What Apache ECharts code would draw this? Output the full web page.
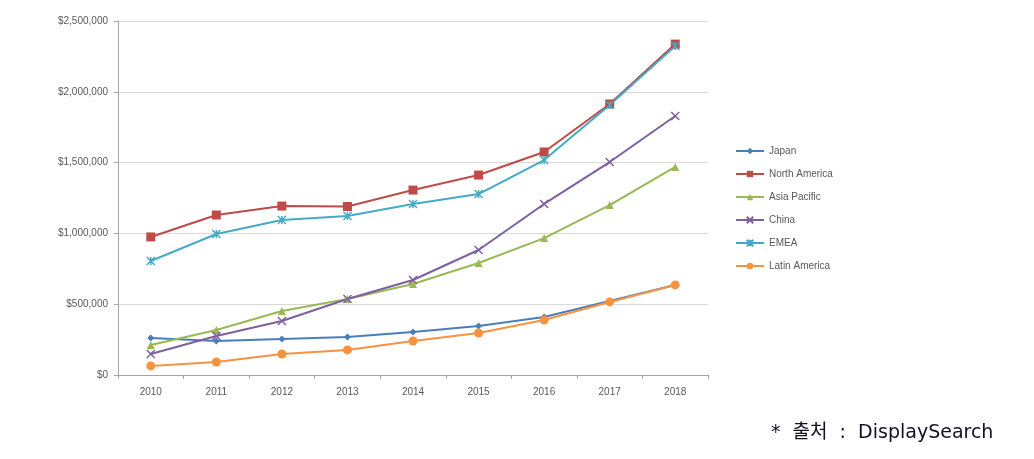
<!DOCTYPE html>
<html><head><meta charset="utf-8">
<script src="https://cdn.jsdelivr.net/npm/echarts@6/dist/echarts.min.js"></script>
<style>html,body{margin:0;padding:0;background:#fff}#c{width:1034px;height:459px}</style>
</head><body><div id="c"></div>
<script>
const years = ['2010','2011','2012','2013','2014','2015','2016','2017','2018'];
const japan = [261000,240000,254000,268000,304000,346000,410000,523000,636000];
const northAmerica = [975000,1130000,1193000,1190000,1306000,1412000,1575000,1914000,2337000];
const asiaPacific = [212000,318000,452000,537000,643000,791000,967000,1200000,1469000];
const china = [148000,275000,381000,537000,671000,883000,1208000,1504000,1829000];
const emea = [805000,996000,1095000,1123000,1208000,1278000,1518000,1907000,2323000];
const latinAmerica = [64000,92000,148000,177000,240000,297000,388000,516000,636000];
const seriesNames = ['Japan','North America','Asia Pacific','China','EMEA','Latin America'];
const sourceNote = '*  출처  :  DisplaySearch';

const colors = ['#4a7ebb','#be4b48','#98b954','#7d60a0','#46aac5','#f69240'];
const dataSets = [japan, northAmerica, asiaPacific, china, emea, latinAmerica];
const symbols = ['diamond','rect','triangle','path://M0,0L10,10M10,0L0,10','path://M0,0L10,10M10,0L0,10M5,0L5,10','circle'];
const sizes = [7,9,8,8,8,9];
const stroked = [false,false,false,true,true,false];

const chart = echarts.init(document.getElementById('c'));
chart.setOption({
  animation:false,
  color: colors,
  grid:{left:118, top:21, right:326, bottom:84, containLabel:false},
  legend:{
    orient:'vertical', left:730, top:141, itemWidth:28, itemHeight:8, itemGap:13,
    textStyle:{fontSize:10, color:'#595959', fontFamily:'Liberation Sans, Arial, sans-serif'},
    data: seriesNames
  },
  xAxis:{
    type:'category', data: years, boundaryGap:true,
    axisLine:{lineStyle:{color:'#a6a6a6'}},
    axisTick:{show:true, interval:0, alignWithLabel:false, length:4, lineStyle:{color:'#a6a6a6'}},
    axisLabel:{fontSize:10, color:'#595959', margin:12, fontFamily:'Liberation Sans, Arial, sans-serif'}
  },
  yAxis:{
    type:'value', min:0, max:2500000, interval:500000,
    axisLine:{show:true, lineStyle:{color:'#a6a6a6'}},
    axisTick:{show:true, length:4, lineStyle:{color:'#a6a6a6'}},
    splitLine:{lineStyle:{color:'#d9d9d9'}},
    axisLabel:{fontSize:10, color:'#595959', margin:10, fontFamily:'Liberation Sans, Arial, sans-serif',
      formatter: v => '$' + v.toLocaleString('en-US')}
  },
  graphic:[{type:'text', left:771, top:424, style:{text:sourceNote, fontSize:19, fill:'#111122', fontFamily:'DejaVu Sans, Noto Sans CJK KR, sans-serif'}}],
  series: seriesNames.map((n,i)=>({
    name:n, type:'line', data:dataSets[i],
    symbol:symbols[i], symbolSize:sizes[i], showAllSymbol:true,
    lineStyle:{width:2, color:colors[i]},
    itemStyle: stroked[i] ? {color:colors[i], borderColor:colors[i], borderWidth:1.5} : {color:colors[i], borderWidth:0}
  }))
});
</script></body></html>
